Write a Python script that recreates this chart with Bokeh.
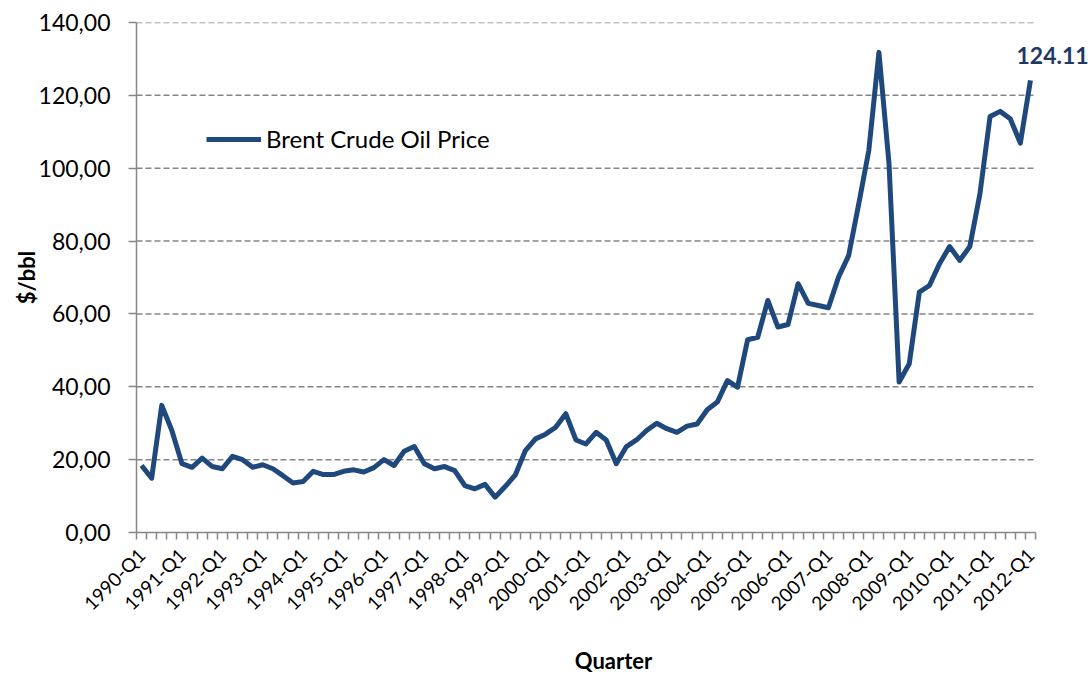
import math
from bokeh.plotting import figure
from bokeh.models import FixedTicker, Legend, LegendItem, Label, Range1d
from bokeh.embed import file_html
from bokeh.resources import INLINE

years = list(range(1990, 2013))
quarters = [f"{y}-Q{q}" for y in years for q in range(1, 5)][:89]

prices = [18.4, 14.9, 34.9, 28.0, 18.9, 17.9, 20.4, 18.1, 17.5, 20.9,
          20.0, 17.9, 18.6, 17.5, 15.6, 13.6, 14.0, 16.8, 15.9, 15.9,
          16.8, 17.2, 16.6, 17.8, 20.0, 18.4, 22.3, 23.6, 18.9, 17.5,
          18.1, 17.0, 12.9, 12.0, 13.2, 9.7, 12.6, 15.8, 22.5, 25.7,
          27.0, 28.9, 32.6, 25.4, 24.3, 27.5, 25.4, 18.9, 23.6, 25.4,
          28.0, 30.0, 28.5, 27.5, 29.2, 29.8, 33.7, 35.8, 41.7, 39.9,
          52.9, 53.6, 63.7, 56.4, 57.1, 68.3, 62.9, 62.3, 61.7, 70.1,
          76.0, 90.2, 104.9, 131.8, 101.2, 41.3, 46.3, 66.0, 67.8, 73.8,
          78.5, 74.7, 78.5, 93.0, 114.2, 115.6, 113.6, 106.9, 124.11]

series_name = "Brent Crude Oil Price"
y_ticks = [0, 20, 40, 60, 80, 100, 120, 140]
y_tick_labels = ["0,00", "20,00", "40,00", "60,00", "80,00", "100,00", "120,00", "140,00"]

FONT = "Lato"
GRID = "#868686"
LINE = "#1F497D"

W, H = 1090, 679
LEFT, TOP, BOTTOM = 136, 22, 147
DATA_RIGHT = 1035  # pixel where the category axis ends

n = len(prices)
xs = list(range(n))
x_lo, x_hi = -0.5, n - 0.5
# the frame runs to the right edge so that the end label is not clipped
x_end = x_lo + (x_hi - x_lo) * (W - LEFT) / (DATA_RIGHT - LEFT)

p = figure(width=W, height=H, output_backend="svg", toolbar_location=None,
           x_range=Range1d(x_lo, x_end), y_range=Range1d(0, 140))
p.min_border_left = LEFT
p.min_border_right = 0
p.min_border_top = TOP
p.min_border_bottom = BOTTOM
p.outline_line_color = None
p.background_fill_color = "white"

# dashed horizontal gridlines over the category extent only
grid_y = y_ticks[1:]
p.segment(x0=[x_lo] * len(grid_y), y0=grid_y, x1=[x_hi] * len(grid_y), y1=grid_y,
          line_color=GRID, line_width=1.5, line_dash="6 3")

r = p.line(xs, prices, line_color=LINE, line_width=5, line_join="round")

# x axis
label_idx = [i for i, q in enumerate(quarters) if q.endswith("Q1")]
p.xaxis.bounds = (x_lo, x_hi)
p.xaxis.ticker = FixedTicker(ticks=label_idx,
                             minor_ticks=[i - 0.5 for i in range(n + 1)])
p.xaxis.major_label_overrides = {i: quarters[i] for i in label_idx}
p.xaxis.major_label_orientation = math.pi / 4
p.xaxis.major_tick_line_color = None
p.xaxis.minor_tick_line_color = GRID
p.xaxis.minor_tick_line_width = 1.5
p.xaxis.minor_tick_in = 0
p.xaxis.minor_tick_out = 7
p.xaxis.axis_line_color = GRID
p.xaxis.axis_line_width = 1.5
p.xaxis.major_label_text_font = FONT
p.xaxis.major_label_text_font_size = "19px"
p.xaxis.major_label_text_color = "black"
p.xaxis.major_label_standoff = 12
p.xaxis.axis_label = "Quarter"
p.xaxis.axis_label_text_font = FONT
p.xaxis.axis_label_text_font_size = "22px"
p.xaxis.axis_label_text_font_style = "bold"
p.xaxis.axis_label_text_color = "black"
p.xaxis.axis_label_standoff = 22

# y axis
p.yaxis.ticker = FixedTicker(ticks=y_ticks, minor_ticks=[])
p.yaxis.major_label_overrides = {t: l for t, l in zip(y_ticks, y_tick_labels)}
p.yaxis.major_tick_line_color = GRID
p.yaxis.major_tick_line_width = 1.5
p.yaxis.major_tick_in = 0
p.yaxis.major_tick_out = 8
p.yaxis.axis_line_color = GRID
p.yaxis.axis_line_width = 1.5
p.yaxis.major_label_text_font = FONT
p.yaxis.major_label_text_font_size = "23px"
p.yaxis.major_label_text_color = "black"
p.yaxis.major_label_standoff = 18
p.yaxis.axis_label = "$/bbl"
p.yaxis.axis_label_text_font = FONT
p.yaxis.axis_label_text_font_size = "22px"
p.yaxis.axis_label_text_font_style = "bold"
p.yaxis.axis_label_text_color = "black"
p.yaxis.axis_label_standoff = -4

p.xgrid.grid_line_color = None
p.ygrid.grid_line_color = None

legend = Legend(items=[LegendItem(label=series_name, renderers=[r])],
                location=(70, 379), border_line_color=None,
                background_fill_alpha=0, padding=0, margin=0,
                glyph_width=55, glyph_height=28, label_height=28,
                label_standoff=5, label_text_font=FONT,
                label_text_font_size="24px", label_text_color="black")
p.add_layout(legend)

last = n - 1
p.add_layout(Label(x=last, y=prices[last], text=f"{prices[last]:.2f}",
                   x_offset=-14, y_offset=25, text_align="left",
                   text_baseline="middle", text_font=FONT,
                   text_font_size="23px", text_font_style="bold",
                   text_color="#1F3864"))

open("out.html", "w").write(file_html(p, INLINE))
